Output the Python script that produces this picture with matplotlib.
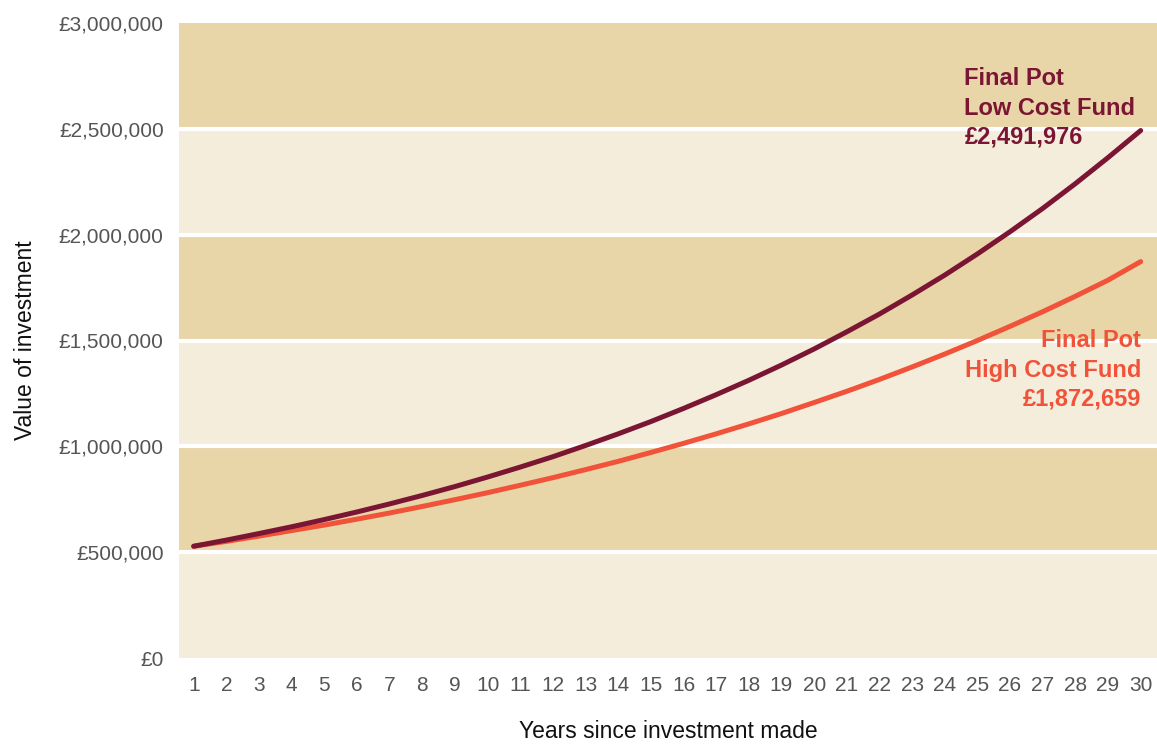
import matplotlib.pyplot as plt
from matplotlib.ticker import FuncFormatter

plt.rcParams['font.family'] = ['Liberation Sans', 'DejaVu Sans']

# Data
years = list(range(1, 31))
low_cost = [528000, 557000, 588000, 620000, 654000, 690000, 728000, 768000, 810000, 855000,
            902000, 951000, 1004000, 1059000, 1117000, 1179000, 1244000, 1312000, 1384000, 1460000,
            1541000, 1625000, 1715000, 1809000, 1909000, 2014000, 2124000, 2241000, 2364000, 2491976]
high_cost = [528000, 551000, 576000, 602000, 628000, 656000, 685000, 716000, 748000, 781000,
             816000, 852000, 890000, 929000, 971000, 1014000, 1059000, 1106000, 1155000, 1207000,
             1260000, 1316000, 1375000, 1436000, 1500000, 1567000, 1636000, 1709000, 1785000, 1872659]
y_ticks = [0, 500000, 1000000, 1500000, 2000000, 2500000, 3000000]

low_col = "#7b1534"
high_col = "#f0523a"
tick_col = "#555555"
band_light = "#f5eddb"
band_dark = "#e8d5a8"

fig = plt.figure(figsize=(11.57, 7.44), dpi=100)
ax = fig.add_axes([179 / 1157, 1 - 658 / 744, (1157 - 179) / 1157, (658 - 23) / 744])

# alternating bands
for i in range(len(y_ticks) - 1):
    ax.axhspan(y_ticks[i], y_ticks[i + 1], color=band_light if i % 2 == 0 else band_dark,
               lw=0, zorder=0)
for v in y_ticks[1:-1]:
    ax.axhline(v, color="white", lw=3, zorder=1)

ax.plot(years, high_cost, color=high_col, lw=3.6, solid_capstyle="round", zorder=3)
ax.plot(years, low_cost, color=low_col, lw=3.6, solid_capstyle="round", zorder=4)

ax.set_xlim(0.55, 30.5)
ax.set_ylim(0, 3000000)
ax.set_xticks(years)
ax.set_yticks(y_ticks)
ax.yaxis.set_major_formatter(FuncFormatter(lambda v, p: "£{:,.0f}".format(v)))
ax.tick_params(length=0, labelsize=15, colors=tick_col)
ax.tick_params(axis="x", pad=13)
ax.tick_params(axis="y", pad=11)
for s in ax.spines.values():
    s.set_visible(False)

ax.set_ylabel("Value of investment", fontsize=16.5, color="#111111", labelpad=16)
ax.set_xlabel("Years since investment made", fontsize=16.5, color="#111111", labelpad=18)

ax.text(0.803, 0.866, "Final Pot\nLow Cost Fund\n£2,491,976", transform=ax.transAxes,
        ha="left", va="center", fontsize=17, fontweight="bold", color=low_col, linespacing=1.35)
ax.text(0.984, 0.4535, "Final Pot\nHigh Cost Fund\n£1,872,659", transform=ax.transAxes,
        ha="right", va="center", fontsize=17, fontweight="bold", color=high_col, linespacing=1.35)

fig.savefig("out.png", dpi=100)
